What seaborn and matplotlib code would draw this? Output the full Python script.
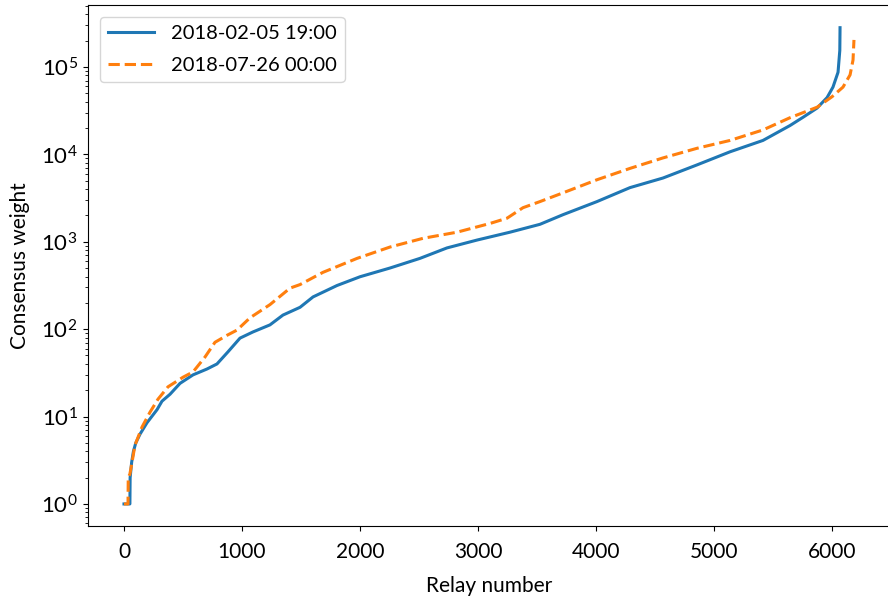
import numpy as np
import pandas as pd
import matplotlib
matplotlib.use("Agg")
import matplotlib.pyplot as plt
import seaborn as sns

# Relay rank vs consensus weight
feb_relay = [0, 50, 52, 65, 80, 100, 136, 195, 280, 322, 390, 475, 585, 703, 788, 881,
             983, 1093, 1237, 1347, 1492, 1602, 1805, 2000, 2254, 2508, 2737, 2992, 3271,
             3525, 3720, 4008, 4288, 4568, 4856, 5136, 5415, 5644, 5760, 5873, 5958, 6008, 6051,
             6066, 6068]
feb_weight = [1, 1, 2, 3, 4, 5, 6.3, 8.5, 12, 15, 18, 24, 30, 35, 40, 55,
              79, 93, 112, 145, 178, 234, 316, 398, 501, 646, 851, 1047, 1288,
              1585, 2042, 2884, 4169, 5370, 7586, 10715, 14454, 21400, 26900, 33884, 44668, 58884, 87096,
              154882, 281838]

jul_relay = [0, 34, 36, 50, 68, 93, 153, 220, 288, 373, 500, 585, 686, 771, 873, 958,
             1068, 1237, 1407, 1492, 1686, 1975, 2254, 2534, 2822, 3102, 3246, 3381, 3525,
             3720, 4008, 4288, 4568, 4856, 5136, 5415, 5644, 5873, 6000, 6093, 6153, 6178, 6186]
jul_weight = [1, 1, 2, 2.2, 3, 4.7, 7.6, 11.2, 15.8, 21.9, 28.2, 32.4, 47.9, 70.8, 85.1, 97.7,
              135, 191, 295, 324, 447, 646, 871, 1096, 1288, 1622, 1862, 2455, 2884,
              3631, 5129, 6918, 9120, 11749, 14454, 19055, 26300, 34674, 45709, 58884, 81283, 120226, 204174]

labels = ["2018-02-05 19:00", "2018-07-26 00:00"]

df = pd.concat([
    pd.DataFrame({"relay": feb_relay, "weight": feb_weight, "date": labels[0]}),
    pd.DataFrame({"relay": jul_relay, "weight": jul_weight, "date": labels[1]}),
])

plt.rcParams['font.family'] = ['Lato', 'DejaVu Sans']
plt.rcParams['mathtext.fontset'] = 'custom'
plt.rcParams['mathtext.rm'] = 'Lato'
plt.rcParams['mathtext.it'] = 'Lato:italic'
plt.rcParams['mathtext.bf'] = 'Lato:bold'

fig = plt.figure(figsize=(8.88, 5.99), dpi=100)
ax = fig.add_axes([0.0991, 0.1219, 0.9043, 0.8698])

sns.lineplot(data=df, x="relay", y="weight", hue="date", style="date",
             palette=["#1f77b4", "#ff7f0e"], dashes={labels[0]: "", labels[1]: (3.7, 1.6)},
             estimator=None, sort=False, linewidth=2.2, ax=ax)

ax.set_yscale("log")
ax.set_xlim(-305, 6500)
ax.set_ylim(10 ** -0.252, 10 ** 5.71)
ax.set_xlabel("Relay number", fontsize=15, labelpad=10)
ax.set_ylabel("Consensus weight", fontsize=15, labelpad=8)
ax.tick_params(axis="x", labelsize=15, pad=8)
ax.tick_params(axis="y", labelsize=16, pad=4)

handles, labs = ax.get_legend_handles_labels()
ax.legend(handles, labs, loc="upper left", fontsize=14.5, handlelength=2.3,
          labelspacing=0.75, borderaxespad=0.6)

fig.savefig("out.png", dpi=100)
